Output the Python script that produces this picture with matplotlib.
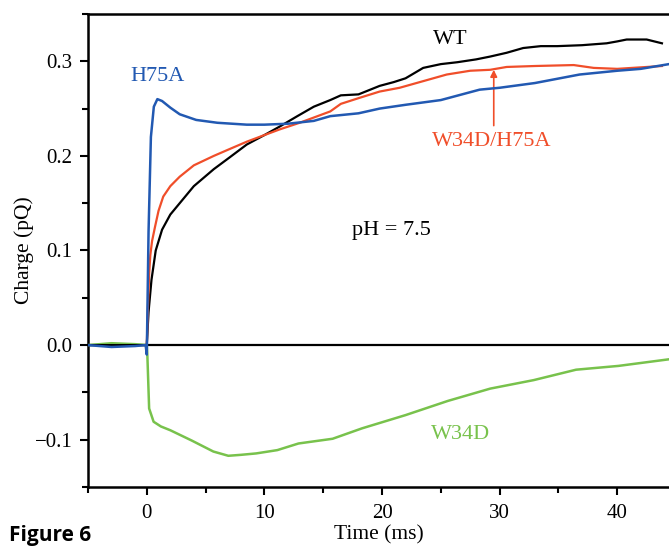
import matplotlib
matplotlib.use('Agg')
import matplotlib.pyplot as plt
from matplotlib.ticker import MultipleLocator
import numpy as np

plt.rcParams['font.family'] = ['Liberation Serif', 'DejaVu Serif']
plt.rcParams['axes.unicode_minus'] = True

wt_t = [-5, -2, -0.3, 0, 0.15, 0.4, 0.76, 1.3, 2.0, 2.8, 4.0, 5.7, 7.0, 8.5, 10.0, 11.3,
        12.8, 14.2, 15.6, 16.5, 18.0, 19.8, 21.0, 22.0, 23.5, 25.0, 26.4, 28.0, 29.2,
        30.6, 32.0, 33.5, 34.9, 37.0, 39.1, 40.0, 40.8, 42.5, 43.8]
wt_q = [0.0, 0.0, 0.0, 0.0, 0.035, 0.069, 0.100, 0.122, 0.138, 0.150, 0.168, 0.186, 0.198,
        0.212, 0.222, 0.231, 0.242, 0.252, 0.259, 0.264, 0.265, 0.274, 0.278, 0.282,
        0.293, 0.297, 0.299, 0.302, 0.305, 0.309, 0.314, 0.316, 0.316, 0.317, 0.319,
        0.321, 0.323, 0.323, 0.319]

h75a_t = [-5, -3, -1, -0.1, 0, 0.15, 0.35, 0.6, 0.9, 1.3, 2.0, 2.8, 4.2, 6.0, 8.5, 10.0,
          12.0, 14.2, 15.6, 18.0, 19.8, 22.0, 25.0, 28.3, 30.0, 33.0, 36.8, 40.0, 42.0, 44.4]
h75a_q = [0.0, -0.002, -0.001, 0.0, -0.01, 0.12, 0.22, 0.252, 0.260, 0.258, 0.251, 0.244,
          0.238, 0.235, 0.233, 0.233, 0.234, 0.237, 0.242, 0.245, 0.250, 0.254, 0.259,
          0.270, 0.272, 0.277, 0.286, 0.290, 0.292, 0.297]

dm_t = [0, 0.1, 0.2, 0.3, 0.45, 0.7, 1.0, 1.4, 2.0, 2.8, 4.0, 5.7, 7.0, 8.5, 10.0, 11.3,
        13.0, 15.6, 16.5, 18.0, 19.8, 21.5, 23.5, 25.5, 27.5, 29.2, 30.6, 33.0, 36.3,
        38.0, 40.0, 43.8]
dm_q = [0.0, 0.04, 0.075, 0.095, 0.11, 0.125, 0.142, 0.157, 0.168, 0.178, 0.190, 0.200,
        0.207, 0.215, 0.222, 0.228, 0.235, 0.247, 0.255, 0.261, 0.268, 0.272, 0.279,
        0.286, 0.290, 0.291, 0.294, 0.295, 0.296, 0.293, 0.292, 0.295]

w34d_t = [-5, -3, -1, 0, 0.05, 0.2, 0.58, 1.2, 2.0, 3.84, 5.66, 6.93, 8.0, 9.3, 11.1, 12.9,
          15.8, 18.3, 22.0, 25.6, 29.2, 32.9, 36.5, 40.1, 44.4]
w34d_q = [0.0, 0.002, 0.001, 0.0, -0.011, -0.067, -0.081, -0.086, -0.090, -0.101, -0.1125,
          -0.117, -0.116, -0.1145, -0.111, -0.104, -0.099, -0.088, -0.074, -0.059, -0.046,
          -0.037, -0.026, -0.022, -0.015]

blue = '#2259b2'
red = '#f04e2a'
green = '#78c24c'

fig = plt.figure(figsize=(6.69, 5.48), dpi=100)
ax = fig.add_axes([0.1315, 0.1113, 0.8685, 0.8632])

ax.axhline(0, color='black', lw=1.6, zorder=1)
ax.plot(w34d_t, w34d_q, color=green, lw=1.8, zorder=3)
ax.plot(wt_t, wt_q, color='black', lw=1.6, zorder=3)
ax.plot(dm_t, dm_q, color=red, lw=1.6, zorder=3)
ax.plot(h75a_t, h75a_q, color=blue, lw=1.8, zorder=4)

ax.set_xlim(-5, 44.4)
ax.set_ylim(-0.15, 0.35)
ax.xaxis.set_major_locator(MultipleLocator(10))
ax.xaxis.set_minor_locator(MultipleLocator(5))
ax.yaxis.set_major_locator(MultipleLocator(0.1))
ax.yaxis.set_minor_locator(MultipleLocator(0.05))
ax.yaxis.set_major_formatter(plt.FuncFormatter(
    lambda v, p: ('%.1f' % v).replace('-', '\u2212') if abs(v) > 1e-9 else '0.0'))
ax.tick_params(which='major', direction='out', length=6, width=1.5, labelsize=15)
ax.tick_params(axis='x', which='major', pad=6)
ax.tick_params(axis='y', which='major', pad=5)
ax.tick_params(which='minor', direction='out', length=4.5, width=1.5)
ax.spines['right'].set_visible(False)
for s in ['left', 'top', 'bottom']:
    ax.spines[s].set_linewidth(1.8)

ax.set_xlabel('Time (ms)', fontsize=15.5, labelpad=2)
ax.set_ylabel('Charge (pQ)', fontsize=15.5, labelpad=1)

ax.text(25.8, 0.323, 'WT', color='black', fontsize=16, ha='center', va='center')
ax.text(0.93, 0.284, 'H75A', color=blue, fontsize=16, ha='center', va='center')
ax.text(29.3, 0.215, 'W34D/H75A', color=red, fontsize=16, ha='center', va='center')
ax.text(20.8, 0.121, 'pH = 7.5', color='black', fontsize=16, ha='center', va='center')
ax.text(26.7, -0.094, 'W34D', color=green, fontsize=16, ha='center', va='center')
ax.annotate('', xy=(29.5, 0.291), xytext=(29.5, 0.232),
            arrowprops=dict(arrowstyle='-|>', color=red, lw=1.2, mutation_scale=10,
                            shrinkA=0, shrinkB=0))

fig.text(0.014, 0.003, 'Figure 6', fontsize=15, fontweight='bold',
         family=['Open Sans', 'DejaVu Sans'], ha='left', va='bottom')

fig.savefig('out.png', dpi=100)
